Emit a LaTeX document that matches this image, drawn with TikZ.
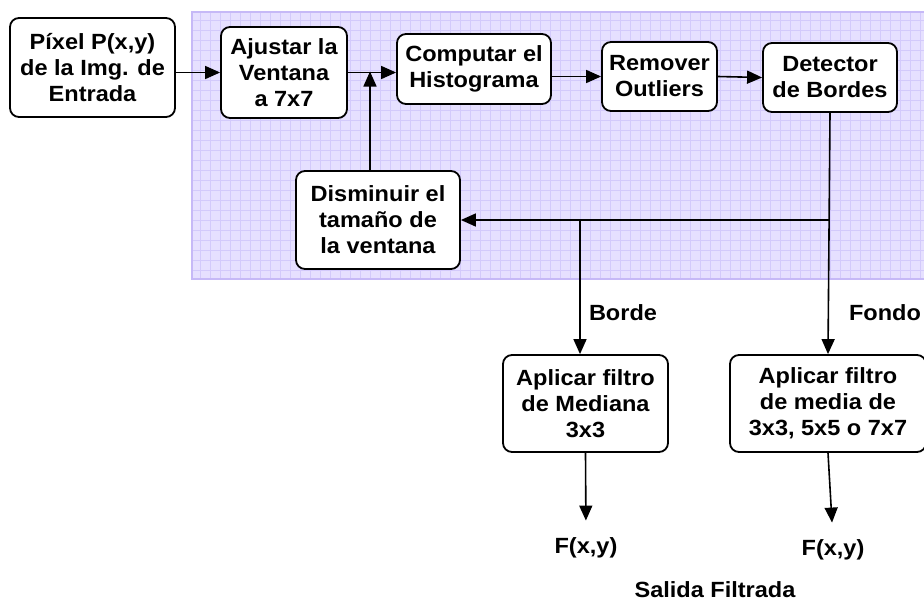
\documentclass[tikz,border=0pt]{standalone}
\usepackage{fontspec}
\setmainfont{Liberation Sans}[FakeStretch=1.07]
\usetikzlibrary{arrows.meta}

\definecolor{fondo}{HTML}{E6E0FF}
\definecolor{rejilla}{HTML}{D3CAFB}
\definecolor{marco}{HTML}{C6B9F7}

\tikzset{
  bloque/.style={draw, line width=1.8pt, rounded corners=9pt, fill=white,
                 align=center, inner sep=0pt,
                 font=\fontsize{22}{26}\selectfont\bfseries},
  etiqueta/.style={inner sep=0pt, font=\fontsize{22}{26}\selectfont\bfseries},
  linea/.style={line width=1.6pt},
  flecha/.style={line width=1.6pt, -{Triangle[length=15pt,width=13pt]}}
}

\begin{document}
\begin{tikzpicture}[x=1pt,y=-1pt]
    \useasboundingbox (0,0) rectangle (924,603);

    % zona cuadriculada del lazo
    \fill[fondo] (192,12) rectangle (926,279);
    \foreach \gx in {200,210,...,920}
        \draw[rejilla, line width=0.6pt] (\gx,12) -- (\gx,279);
    \foreach \gy in {20,30,...,270}
        \draw[rejilla, line width=0.6pt] (192,\gy) -- (926,\gy);
    \draw[marco, line width=1.5pt] (192,12) rectangle (926,279);

    % bloques
    \node[bloque, minimum width=165, minimum height=99] (pixel) at (92.5,67.5)
        {Píxel P(x,y)\\de la Img. de\\Entrada};
    \node[bloque, minimum width=126, minimum height=91] (ajustar) at (284,72.5)
        {Ajustar la\\Ventana\\a 7x7};
    \node[bloque, minimum width=154, minimum height=70] (computar) at (474,69)
        {Computar el\\Histograma};
    \node[bloque, minimum width=115, minimum height=69] (remover) at (659.5,76.5)
        {Remover\\Outliers};
    \node[bloque, minimum width=134, minimum height=69] (detector) at (830,77.5)
        {Detector\\de Bordes};
    \node[bloque, minimum width=164, minimum height=98] (disminuir) at (378,220)
        {Disminuir el\\tamaño de\\la ventana};
    \node[bloque, minimum width=165, minimum height=97] (mediana) at (585.5,403.5)
        {Aplicar filtro\\de Mediana\\3x3};
    \node[bloque, minimum width=196, minimum height=97] (media) at (828,403.5)
        {Aplicar filtro\\de media de\\3x3, 5x5 o 7x7};

    % salidas y rotulos
    \node[etiqueta] (borde) at (623,313) {Borde};
    \node[etiqueta] (fondolbl) at (885,313) {Fondo};
    \node[etiqueta] (salidaA) at (586,548) {F(x,y)};
    \node[etiqueta] (salidaB) at (833,550) {F(x,y)};
    \node[etiqueta] (salida) at (715,590) {Salida Filtrada};

    % puntos de bifurcacion
    \coordinate (split) at (detector.south |- disminuir.east);
    \coordinate (bordept) at (580,0 |- split);

    % conexiones
    \draw[flecha] (pixel.east |- ajustar.west) -- (ajustar.west);
    \draw[flecha] (ajustar.east) -- (ajustar.east -| computar.west);
    \draw[flecha] ([xshift=-8]disminuir.north) -- ([xshift=-8]disminuir.north |- ajustar.east)
        [shorten >=-1pt];
    \draw[flecha] (remover.west -| computar.east) -- (remover.west);
    \draw[flecha] (remover.east) -- (detector.west);
    \draw[flecha] (detector.south) -- (media.north);
    \draw[flecha] (split) -- (disminuir.east);
    \draw[flecha] (bordept) -- (bordept |- mediana.north);
    \draw[flecha, shorten >=17pt] (mediana.south) -- (salidaA.north);
    \draw[flecha, shorten >=17pt] (media.south) -- (salidaB.north);
\end{tikzpicture}
\end{document}
